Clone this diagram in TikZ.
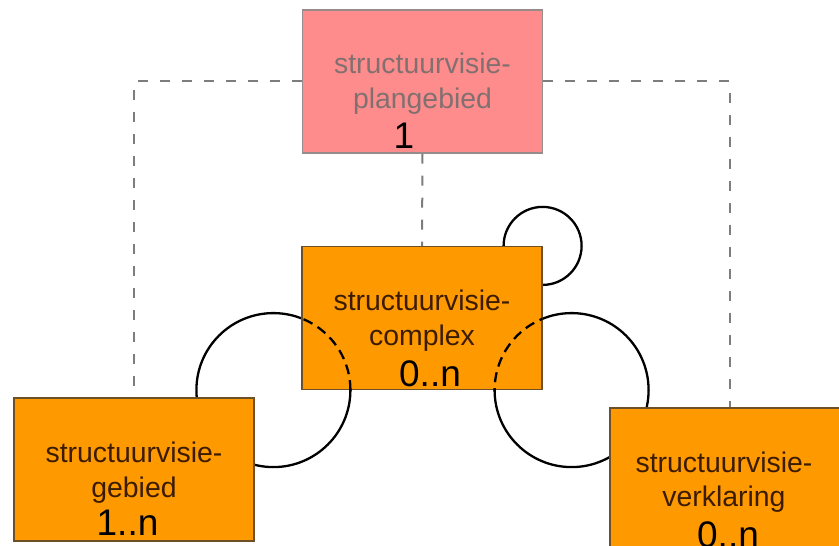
\documentclass[tikz,border=0pt]{standalone}
\usepackage{fontspec}
\setmainfont{Liberation Sans}
\usetikzlibrary{positioning,calc,backgrounds}

\definecolor{planroze}{RGB}{255,140,140}
\definecolor{planrand}{RGB}{150,140,140}
\definecolor{plantekst}{RGB}{130,112,112}
\definecolor{blokoranje}{RGB}{255,153,0}
\definecolor{blokrand}{RGB}{110,80,40}
\definecolor{bloktekst}{RGB}{60,28,0}
\definecolor{lijngrijs}{RGB}{125,125,125}

\begin{document}
\begin{tikzpicture}[x=1pt, y=1pt,
    blok/.style={draw=blokrand, fill=blokoranje, line width=1.2pt,
        minimum width=240pt, minimum height=143pt, inner sep=0pt},
    planblok/.style={blok, draw=planrand, fill=planroze},
    naam/.style={font=\fontsize{28.4}{34}\selectfont, text=bloktekst, inner sep=0pt, anchor=base},
    aantal/.style={font=\fontsize{37}{40}\selectfont, text=black, inner sep=0pt, anchor=base},
    koppel/.style={draw=lijngrijs, line width=2pt, dash pattern=on 10pt off 12pt},
    relatie/.style={draw=black, line width=2.3pt},
    relstip/.style={relatie, dash pattern=on 10pt off 6pt}]

    \useasboundingbox (0,0) rectangle (839,546);
    \clip (0,0) rectangle (839,546);

    % Blokken
    \node[planblok] (plan) at (422.5,464.5) {};
    \node[blok] (complex) at (422,228) {};
    \node[blok] (gebied) at (134,76.5) {};
    \node[blok] (verklaring) at (730,66.5) {};

    % Middelpunten van de relaties
    \coordinate (lc) at ($(complex.south west)+(-28,0)$);
    \coordinate (rc) at ($(complex.south east)+(29,0)$);
    \coordinate (kc) at (complex.north east);

    % Koppelingen en relaties achter de blokken
    \begin{scope}[on background layer]
        \draw[koppel] (plan.west) -| (gebied.north);
        \draw[koppel] (plan.east) -| (verklaring.north);
        \draw[koppel] (plan.south) -- (complex.north);
        \draw[relatie] (lc) circle (77);
        \draw[relatie] (rc) circle (77);
        \draw[relatie] (kc) circle (39);
    \end{scope}

    % Gestippelde delen binnen het complex
    \begin{scope}
        \clip (complex.south west) rectangle (complex.north east);
        \draw[relstip] (lc) circle (77);
        \draw[relstip] (rc) circle (77);
    \end{scope}

    % Teksten
    \node[naam, text=plantekst] (plan1) at ($(plan.center)+(0,8)$) {structuurvisie-};
    \node[naam, text=plantekst] (plan2) at ($(plan.center)+(0,-27)$) {plangebied};
    \node[aantal] (plann) at ($(plan.south)+(-18.5,5)$) {1};

    \node[naam] (complex1) at ($(complex.center)+(0,7)$) {structuurvisie-};
    \node[naam] (complex2) at ($(complex.center)+(0,-28)$) {complex};
    \node[aantal] (complexn) at ($(complex.south)+(8,4)$) {0..n};

    \node[naam] (gebied1) at ($(gebied.center)+(0,7)$) {structuurvisie-};
    \node[naam] (gebied2) at ($(gebied.center)+(0,-28)$) {gebied};
    \node[aantal] (gebiedn) at ($(gebied.south)+(-6.5,6)$) {1..n};

    \node[naam] (verklaring1) at ($(verklaring.center)+(-6,7)$) {structuurvisie-};
    \node[naam] (verklaring2) at ($(verklaring.center)+(-6,-27)$) {verklaring};
    \node[aantal] (verklaringn) at ($(verklaring.south)+(-2,4)$) {0..n};
\end{tikzpicture}
\end{document}
